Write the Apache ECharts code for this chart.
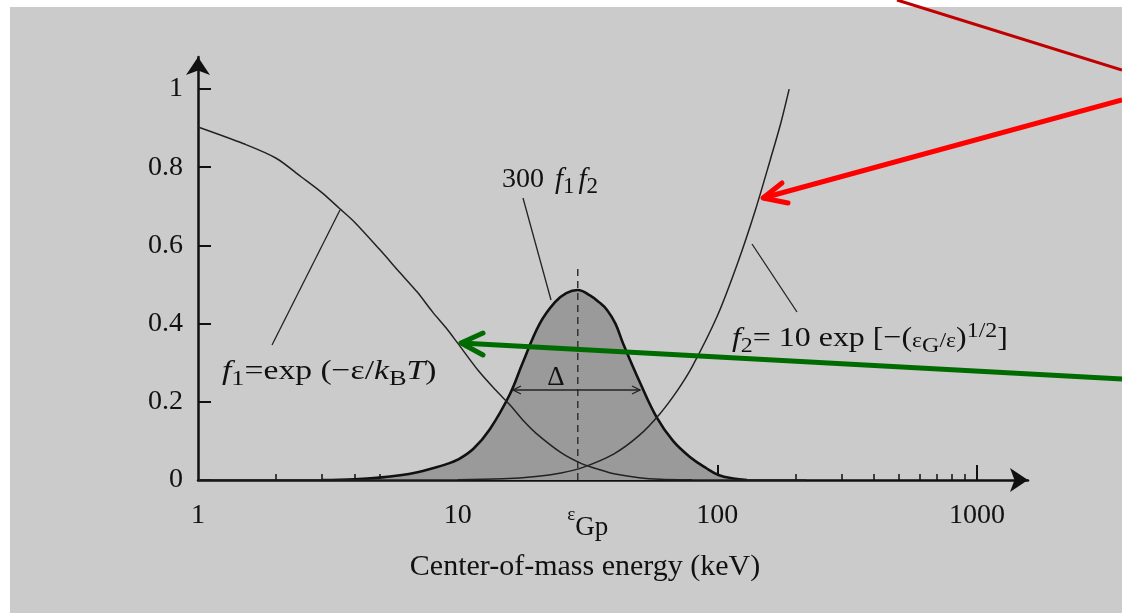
<!DOCTYPE html>
<html>
<head>
<meta charset="utf-8">
<script src="https://cdn.jsdelivr.net/npm/echarts@6/dist/echarts.min.js"></script>
<style>
html,body{margin:0;padding:0;background:#fff;}
#bg{position:absolute;left:10px;top:7px;right:0;bottom:0;background:#cbcbcb;}
#c{position:absolute;left:0;top:0;width:1122px;height:613px;}
</style>
</head>
<body>
<div id="bg"></div>
<div id="c"></div>
<script>
// ---- data ----
const energy_f1 = [1, 1.5, 2, 2.5, 3, 3.5, 4, 5, 6, 7, 8, 9, 10, 12, 14, 16, 18, 20, 25, 30, 35, 40, 50, 60, 80, 120, 220];
const value_f1  = [0.903, 0.86, 0.823, 0.775, 0.735, 0.695, 0.66, 0.59, 0.53, 0.48, 0.43, 0.39, 0.35, 0.28, 0.23, 0.19, 0.15, 0.12, 0.07, 0.042, 0.027, 0.016, 0.006, 0.002, 0.0005, 0, 0];

const energy_f2 = [1, 5, 10, 15, 20, 25, 30, 40, 50, 60, 70, 80, 100, 120, 140, 160, 175, 189];
const value_f2  = [0, 0, 0.0005, 0.003, 0.009, 0.018, 0.031, 0.067, 0.114, 0.169, 0.228, 0.29, 0.42, 0.557, 0.69, 0.82, 0.91, 1.0];

const energy_prod = [3, 4, 5, 6, 7, 8, 9, 10, 11.5, 13.3, 15.9, 17.8, 20.7, 23.7, 26.2, 29, 32.3, 35, 37.6, 40.5, 43.3, 50.3, 58.4, 67.5, 78.4, 90.8, 101, 115, 130];
const value_prod  = [0, 0.002, 0.006, 0.012, 0.02, 0.03, 0.04, 0.052, 0.08, 0.13, 0.22, 0.30, 0.40, 0.455, 0.478, 0.486, 0.472, 0.455, 0.435, 0.40, 0.35, 0.25, 0.16, 0.10, 0.059, 0.03, 0.013, 0.004, 0];

const EPS_GP = 29;            // Gamow peak energy (keV)
const peakLineTop = 0.54;     // top of dashed marker line
const xLabelValues = [1, 10, EPS_GP, 100, 1000];
const xMajorTicks = [10, 100, 1000];
const xMinorTicks = [2,3,4,5,6,7,8,9,20,30,40,50,60,70,80,90,200,300,400,500,600,700,800,900];
const yTickValues = [0, 0.2, 0.4, 0.6, 0.8, 1];

const zip = (xs, ys) => xs.map((x, i) => [x, ys[i]]);

const FONT = "'Liberation Serif','Times New Roman',serif";
const INK = '#111';

const chart = echarts.init(document.getElementById('c'), null, {renderer: 'canvas'});

const axisBase = {
  type: 'log', logBase: 10, min: 1, max: 1571, position: 'bottom', offset: 0,
  splitLine: {show: false}, minorSplitLine: {show: false}
};

const option = {
  backgroundColor: 'transparent',
  animation: false,
  grid: {left: 198, top: 57, width: 830, height: 423, containLabel: false},
  xAxis: [
    Object.assign({}, axisBase, {
      name: 'Center-of-mass energy (keV)',
      nameLocation: 'middle', nameGap: 72,
      nameTextStyle: {fontFamily: FONT, fontSize: 30, color: INK, padding: [0, 56, 0, 0]},
      axisLine: {show: true, lineStyle: {color: INK, width: 2.5}, symbol: ['none', 'arrow'], symbolSize: [18, 18]},
      axisTick: {show: true, inside: true, length: 6, lineStyle: {color: INK, width: 1.5}, customValues: xMinorTicks},
      axisLabel: {
        show: true, margin: 22, customValues: xLabelValues,
        fontFamily: FONT, fontSize: 28, color: INK,
        formatter: v => Math.abs(v - EPS_GP) < 0.5 ? '{e|ε}{s|Gp}' : String(Math.round(v)),
        rich: {
          e: {fontFamily: FONT, fontSize: 19, color: INK, padding: [0, 0, 12, 20]},
          s: {fontFamily: FONT, fontSize: 27, color: INK, padding: [12, 0, 0, 0]}
        }
      }
    }),
    Object.assign({}, axisBase, {
      axisLine: {show: false},
      axisTick: {show: true, inside: true, length: 15, lineStyle: {color: INK, width: 2}, customValues: xMajorTicks},
      axisLabel: {show: false}
    })
  ],
  yAxis: {
    type: 'value', min: 0, max: 1.082,
    splitLine: {show: false},
    axisLine: {show: true, lineStyle: {color: INK, width: 2.5}, symbol: ['none', 'arrow'], symbolSize: [18, 18]},
    axisTick: {show: true, inside: true, length: 13, lineStyle: {color: INK, width: 2}, customValues: yTickValues},
    axisLabel: {show: true, margin: 15, customValues: yTickValues, fontFamily: FONT, fontSize: 28, color: INK,
      formatter: v => String(+v.toFixed(1))}
  },
  series: [
    {
      name: '300 f1 f2', type: 'line', xAxisIndex: 0, smooth: 0.4, showSymbol: false, z: 2,
      data: zip(energy_prod, value_prod),
      lineStyle: {color: INK, width: 2.6},
      areaStyle: {color: '#9a9a9a', opacity: 1}
    },
    {
      name: 'peak', type: 'line', xAxisIndex: 0, showSymbol: false, z: 3,
      data: [[EPS_GP, 0], [EPS_GP, peakLineTop]],
      lineStyle: {color: '#333', width: 1.5, type: [7, 5]}
    },
    {
      name: 'f1', type: 'line', xAxisIndex: 0, smooth: 0.3, showSymbol: false, z: 4,
      data: zip(energy_f1, value_f1),
      lineStyle: {color: '#222', width: 1.5}
    },
    {
      name: 'f2', type: 'line', xAxisIndex: 0, smooth: 0.3, showSymbol: false, z: 4,
      data: zip(energy_f2, value_f2),
      lineStyle: {color: '#222', width: 1.5}
    }
  ],
  graphic: [
    // leader lines
    {type: 'line', z: 50, shape: {x1: 523, y1: 198, x2: 551, y2: 300}, style: {stroke: '#222', lineWidth: 1.3}},
    {type: 'line', z: 50, shape: {x1: 272, y1: 345, x2: 340, y2: 210}, style: {stroke: '#222', lineWidth: 1.3}},
    {type: 'line', z: 50, shape: {x1: 797, y1: 312, x2: 752, y2: 244}, style: {stroke: '#222', lineWidth: 1.3}},
    // Delta double arrow
    {type: 'line', z: 50, shape: {x1: 513, y1: 390, x2: 640, y2: 390}, style: {stroke: '#222', lineWidth: 1.5}},
    {type: 'polyline', z: 50, shape: {points: [[521, 386], [513, 390], [521, 394]]}, style: {stroke: '#222', lineWidth: 1.3, fill: null}},
    {type: 'polyline', z: 50, shape: {points: [[632, 386], [640, 390], [632, 394]]}, style: {stroke: '#222', lineWidth: 1.3, fill: null}},
    {type: 'text', z: 50, x: 556, y: 378, style: {text: 'Δ', fontFamily: FONT, fontSize: 27, fill: INK, align: 'center', verticalAlign: 'middle'}},
    // labels
    {type: 'text', z: 50, x: 502, y: 180, style: {
      text: '{n|300 }{i|f}{s|1}{i|f}{s|2}', verticalAlign: 'middle',
      rich: {
        n: {fontFamily: FONT, fontSize: 28, fill: INK},
        i: {fontFamily: FONT, fontSize: 29, fontStyle: 'italic', fill: INK, padding: [0, 0, 0, 4]},
        s: {fontFamily: FONT, fontSize: 23, fill: INK, padding: [14, 0, 0, 0]}
      }}},
    {type: 'text', z: 50, x: 222, y: 372, scaleX: 1.2, style: {
      text: '{i|f}{s|1}{t|=exp (−ε/}{i|k}{s|B}{i|T}{t|)}', verticalAlign: 'middle',
      rich: {
        t: {fontFamily: FONT, fontSize: 28, fill: INK},
        i: {fontFamily: FONT, fontSize: 28, fontStyle: 'italic', fill: INK},
        s: {fontFamily: FONT, fontSize: 22, fill: INK, padding: [14, 0, 0, 0]}
      }}},
    {type: 'text', z: 50, x: 732, y: 339, scaleX: 1.14, style: {
      text: '{i|f}{s|2}{t|= 10 exp [−(}{e|ε}{s|G}{e|/ε}{t|)}{p|1/2}{t|]}', verticalAlign: 'middle',
      rich: {
        t: {fontFamily: FONT, fontSize: 28, fill: INK},
        i: {fontFamily: FONT, fontSize: 28, fontStyle: 'italic', fill: INK},
        e: {fontFamily: FONT, fontSize: 21, fill: INK, padding: [4, 0, 0, 0]},
        s: {fontFamily: FONT, fontSize: 21, fill: INK, padding: [14, 0, 0, 0]},
        p: {fontFamily: FONT, fontSize: 21, fill: INK, padding: [0, 0, 16, 0]}
      }}},
    // annotation arrows
    {type: 'line', z: 100, shape: {x1: 897, y1: 0, x2: 1122, y2: 70}, style: {stroke: '#c00000', lineWidth: 3}},
    {type: 'line', z: 100, shape: {x1: 1122, y1: 100, x2: 763, y2: 198}, style: {stroke: '#ff0000', lineWidth: 5}},
    {type: 'polyline', z: 100, shape: {points: [[782, 183], [763, 198], [788, 203]]}, style: {stroke: '#ff0000', lineWidth: 5, fill: null, lineCap: 'round', lineJoin: 'round'}},
    {type: 'line', z: 100, shape: {x1: 1122, y1: 379, x2: 461, y2: 343}, style: {stroke: '#006b00', lineWidth: 5}},
    {type: 'polyline', z: 100, shape: {points: [[483, 333], [461, 343], [483, 355]]}, style: {stroke: '#006b00', lineWidth: 5, fill: null, lineCap: 'round', lineJoin: 'round'}}
  ]
};

chart.setOption(option);
</script>
</body>
</html>
